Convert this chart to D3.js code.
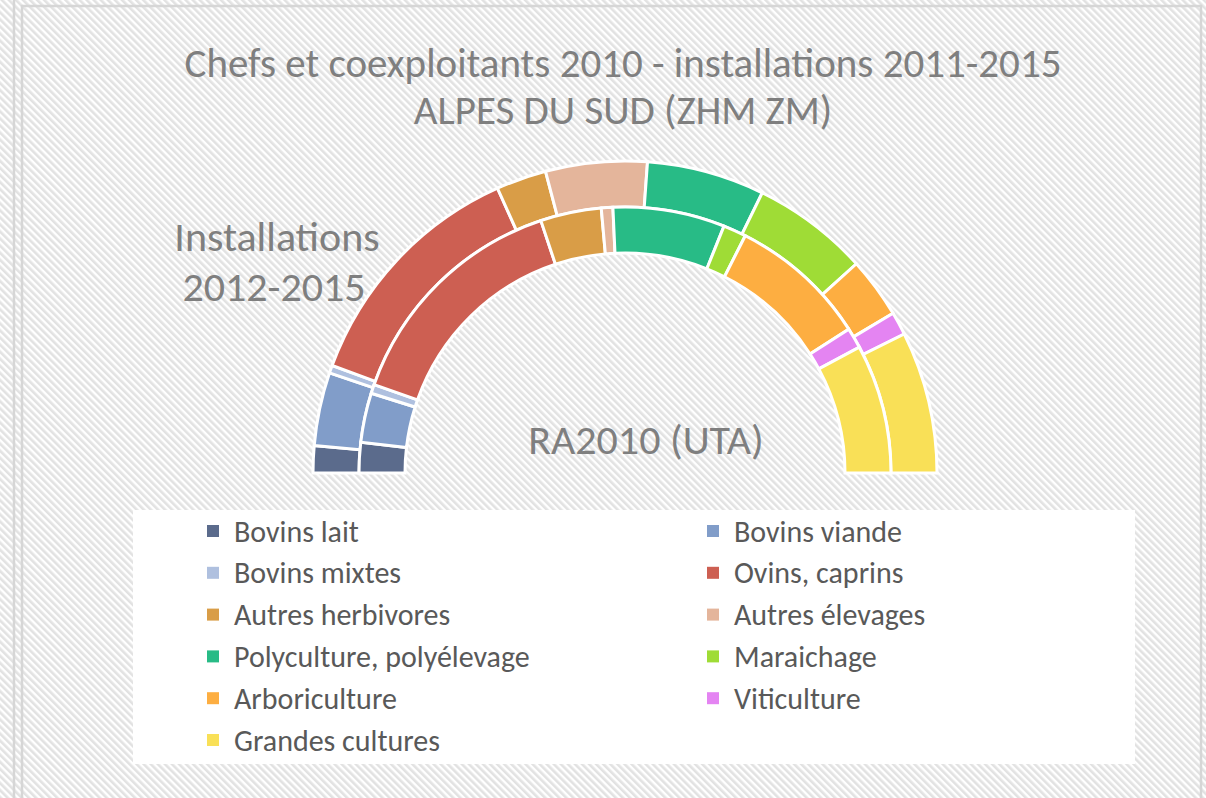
<!DOCTYPE html>
<html>
<head>
<meta charset="utf-8">
<script src="https://cdn.jsdelivr.net/npm/d3@7"></script>
<style>
  html, body { margin: 0; padding: 0; background: #fff; }
  svg { display: block; font-family: Carlito, Lato, "Open Sans", sans-serif; }
</style>
</head>
<body>
<div id="chart"></div>
<script>
// categories (same order in both rings)
const categories = [
  "Bovins lait", "Bovins viande", "Bovins mixtes", "Ovins, caprins",
  "Autres herbivores", "Autres élevages", "Polyculture, polyélevage",
  "Maraichage", "Arboriculture", "Viticulture", "Grandes cultures"
];
// share (%)
const installations = [2.8, 7.6, 0.8, 25.4, 5.2, 10.5, 12.2, 12.1, 6.3, 2.4, 14.7];
const ra2010 = [3.7, 6.0, 1.1, 29.0, 7.4, 1.4, 13.6, 2.8, 16.9, 2.5, 15.7];
const colors = [
  "#5b6b8c", "#819dc9", "#afc0df", "#cd5f52", "#d99d47", "#e4b59b",
  "#28bb86", "#9fdc36", "#fdae41", "#e484f2", "#f9e057"
];
const titleLines = ["Chefs et coexploitants 2010  - installations 2011-2015", "ALPES DU SUD (ZHM ZM)"];

const width = 1206, height = 798;
const cx = 625, cy = 473;
const textColor = "#7f7f7f";

const svg = d3.select("#chart")
  .append("svg")
    .attr("width", width)
    .attr("height", height);

/*******************************/
/*    background + frame       */
/*******************************/
const defs = svg.append("defs");
const pat = defs.append("pattern")
    .attr("id", "hatch")
    .attr("patternUnits", "userSpaceOnUse")
    .attr("width", 5)
    .attr("height", 5)
    .attr("patternTransform", "rotate(-45)");
pat.append("rect").attr("width", 5).attr("height", 5).attr("fill", "#ffffff");
pat.append("rect").attr("width", 2.6).attr("height", 5).attr("fill", "#e2e2e2");

svg.append("rect")
    .attr("width", width).attr("height", height)
    .attr("fill", "url(#hatch)");

svg.append("line").attr("x1", 14).attr("x2", 14).attr("y1", 0).attr("y2", height)
    .attr("stroke", "#d6d6d6").attr("stroke-width", 2.5);
svg.append("path")
    .attr("d", `M22,${height} L22,6 L1201,6 L1201,${height}`)
    .attr("fill", "none")
    .attr("stroke", "#d6d6d6")
    .attr("stroke-width", 2.5);

/*******************************/
/*    title                    */
/*******************************/
svg.append("g")
  .selectAll("text")
  .data(titleLines)
  .join("text")
    .attr("x", 623)
    .attr("y", (d, i) => 77 + i * 47)
    .attr("text-anchor", "middle")
    .attr("fill", textColor)
    .attr("font-size", 41)
    .text(d => d);

/*******************************/
/*    half doughnut rings      */
/*******************************/
const pie = d3.pie()
  .sort(null)
  .startAngle(-Math.PI / 2)
  .endAngle(Math.PI / 2);

const rings = [
  { key: "inst", values: installations, inner: 266, outer: 312 },
  { key: "ra", values: ra2010, inner: 220, outer: 266 }
];

const chart = svg.append("g")
    .attr("transform", `translate(${cx}, ${cy})`);

rings.forEach(ring => {
  const arc = d3.arc()
    .innerRadius(ring.inner)
    .outerRadius(ring.outer);
  chart.selectAll(`.arc-${ring.key}`)
    .data(pie(ring.values))
    .join("path")
      .attr("class", `arc-${ring.key}`)
      .attr("d", arc)
      .attr("fill", (d, i) => colors[i])
      .attr("stroke", "#ffffff")
      .attr("stroke-width", 3)
      .attr("stroke-linejoin", "miter");
});

// ring labels
const ringLabels = svg.append("g")
    .attr("fill", textColor)
    .attr("font-size", 42)
    .attr("text-anchor", "middle");
ringLabels.append("text").attr("x", 277).attr("y", 251).text("Installations");
ringLabels.append("text").attr("x", 274).attr("y", 301).text("2012-2015");
ringLabels.append("text").attr("x", 646).attr("y", 454).text("RA2010 (UTA)");

/*******************************/
/*    legend                   */
/*******************************/
svg.append("rect")
    .attr("x", 133).attr("y", 510)
    .attr("width", 1002).attr("height", 254)
    .attr("fill", "#ffffff");

const legend = svg.append("g")
  .selectAll("g")
  .data(categories)
  .join("g")
    .attr("transform", (d, i) => `translate(${i % 2 === 0 ? 207 : 707}, ${531 + Math.floor(i / 2) * 41.8})`);

legend.append("rect")
    .attr("x", 0).attr("y", -6)
    .attr("width", 12).attr("height", 12)
    .attr("fill", (d, i) => colors[i]);

legend.append("text")
    .attr("x", 27)
    .attr("y", 10.5)
    .attr("fill", "#595959")
    .attr("font-size", 30)
    .text(d => d);
</script>
</body>
</html>
